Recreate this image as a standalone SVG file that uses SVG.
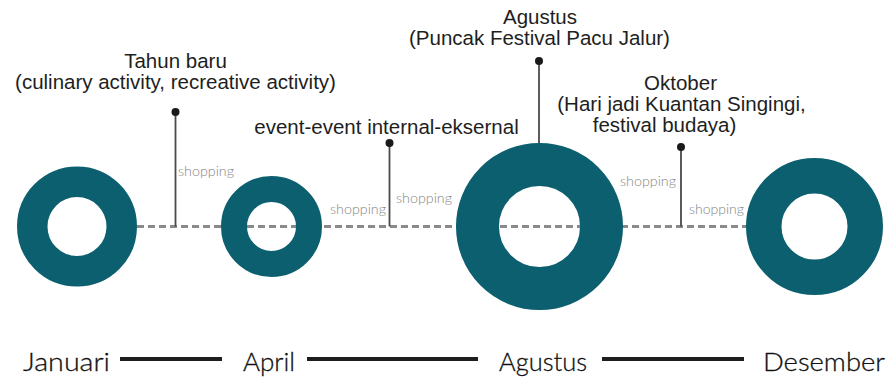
<svg xmlns="http://www.w3.org/2000/svg" width="891" height="380" viewBox="0 0 891 380">
  <style>
    .ring { fill: none; stroke: #0b5f6e; }
    .dash { stroke: #8a8a8a; stroke-width: 3; stroke-dasharray: 7 4; fill: none; }
    .stem { stroke: #4a4a4a; stroke-width: 1.8; }
    .dot { fill: #1a1a1a; }
    .title { font-family: "Liberation Sans", Arial, sans-serif; font-size: 20.5px; fill: #1e1e1e; text-anchor: middle; }
    .shop { font-family: "Lato", "DejaVu Sans", sans-serif; font-weight: 300; font-size: 13px; fill: #858585; }
    .month { font-family: "Lato", "Liberation Sans", sans-serif; font-weight: 300; font-size: 26px; fill: #111111; stroke: #111111; stroke-width: 0.3; }
    .bar { stroke: #1e1e1e; stroke-width: 4; }
  </style>
  <rect width="891" height="380" fill="#ffffff"/>

  <!-- timeline connectors -->
  <g id="connectors">
    <line class="dash" x1="137" y1="226.5" x2="748" y2="226.5"/>
    <line class="stem" x1="175.5" y1="112" x2="175.5" y2="226.5"/>
    <line class="stem" x1="389.5" y1="143" x2="389.5" y2="226.5"/>
    <line class="stem" x1="539" y1="61" x2="539" y2="145"/>
    <line class="stem" x1="681" y1="147" x2="681" y2="226.5"/>
    <circle class="dot" cx="175.5" cy="112" r="4"/>
    <circle class="dot" cx="389.5" cy="143" r="4"/>
    <circle class="dot" cx="539" cy="61" r="4"/>
    <circle class="dot" cx="681" cy="147" r="4"/>
  </g>

  <!-- month rings -->
  <g id="ring-januari">
    <circle class="ring" cx="77" cy="226.5" r="44.75" stroke-width="30.5"/>
  </g>
  <g id="ring-april">
    <circle class="ring" cx="271.5" cy="226.5" r="37.5" stroke-width="26"/>
  </g>
  <g id="ring-agustus">
    <circle class="ring" cx="539.5" cy="226.5" r="62" stroke-width="43"/>
  </g>
  <g id="ring-desember">
    <circle class="ring" cx="814.5" cy="226.5" r="50.75" stroke-width="35.5"/>
  </g>

  <!-- event labels -->
  <g id="event-tahun-baru">
    <text class="title" x="175.5" y="68">Tahun baru</text>
    <text class="title" x="175.5" y="89">(culinary activity, recreative activity)</text>
  </g>
  <g id="event-internal">
    <text class="title" x="386.5" y="134">event-event internal-eksernal</text>
  </g>
  <g id="event-agustus">
    <text class="title" x="540" y="24">Agustus</text>
    <text class="title" x="539.5" y="45">(Puncak Festival Pacu Jalur)</text>
  </g>
  <g id="event-oktober">
    <text class="title" x="680.5" y="90">Oktober</text>
    <text class="title" x="681.5" y="111">(Hari jadi Kuantan Singingi,</text>
    <text class="title" x="664.5" y="132">festival budaya)</text>
  </g>

  <!-- shopping annotations -->
  <g id="shopping-labels">
    <text class="shop" x="178" y="176" textLength="56" lengthAdjust="spacingAndGlyphs">shopping</text>
    <text class="shop" x="330" y="214" textLength="56" lengthAdjust="spacingAndGlyphs">shopping</text>
    <text class="shop" x="396" y="203" textLength="56" lengthAdjust="spacingAndGlyphs">shopping</text>
    <text class="shop" x="620" y="186" textLength="56" lengthAdjust="spacingAndGlyphs">shopping</text>
    <text class="shop" x="689" y="214" textLength="55" lengthAdjust="spacingAndGlyphs">shopping</text>
  </g>

  <!-- month scale -->
  <g id="month-scale">
    <text class="month" x="23" y="371" textLength="87" lengthAdjust="spacingAndGlyphs">Januari</text>
    <line class="bar" x1="120" y1="359" x2="222" y2="359"/>
    <text class="month" x="243" y="371" textLength="52" lengthAdjust="spacingAndGlyphs">April</text>
    <line class="bar" x1="307" y1="359" x2="478" y2="359"/>
    <text class="month" x="499" y="371" textLength="88" lengthAdjust="spacingAndGlyphs">Agustus</text>
    <line class="bar" x1="602" y1="359" x2="744" y2="359"/>
    <text class="month" x="763" y="371" textLength="122" lengthAdjust="spacingAndGlyphs">Desember</text>
  </g>
</svg>
